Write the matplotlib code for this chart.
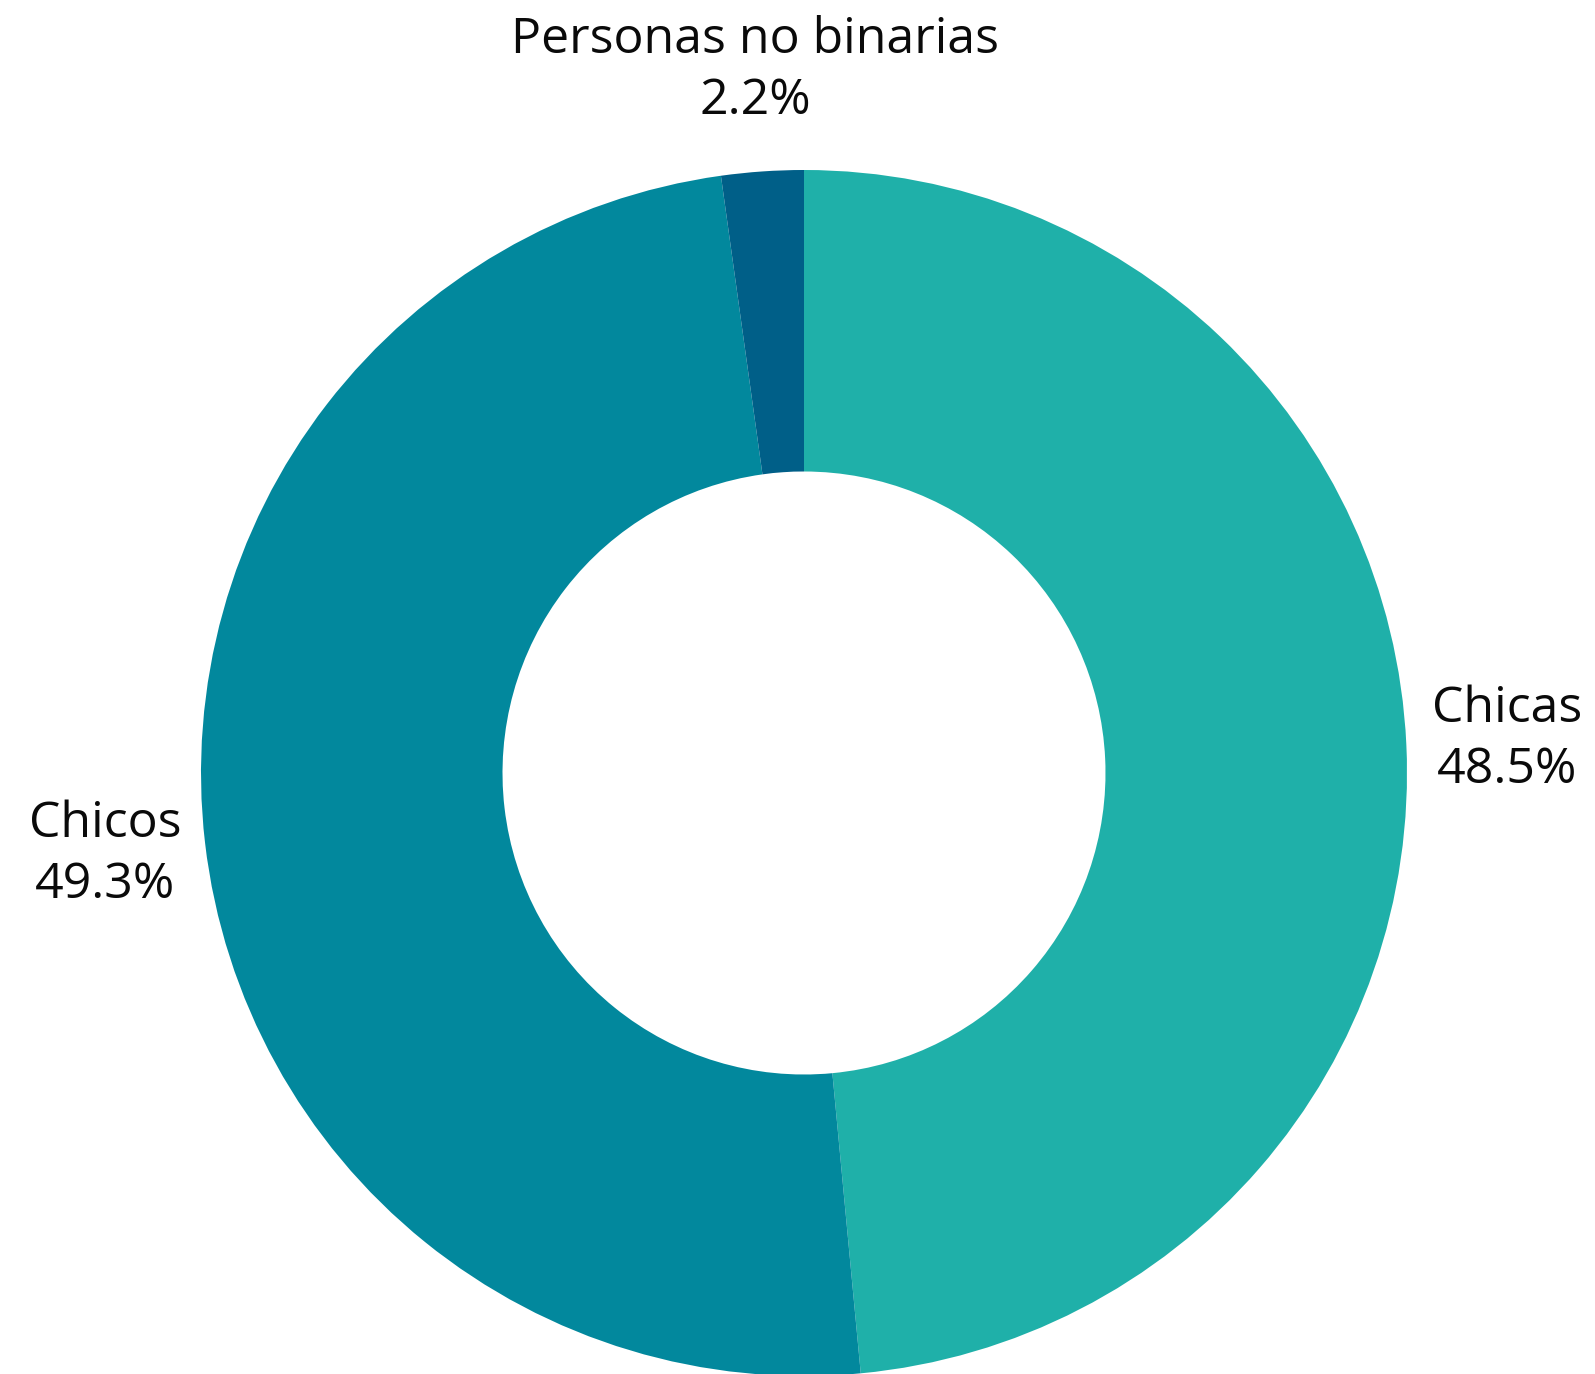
import numpy as np
import matplotlib
matplotlib.use("Agg")
import matplotlib.pyplot as plt

labels = ["Chicas", "Chicos", "Personas no binarias"]
shares = [48.5, 49.3, 2.2]
colors = ["#1fb0a9", "#02889d", "#005f88"]

plt.rcParams['font.family'] = ['Open Sans', 'DejaVu Sans']

W, H = 1595, 1374
fig = plt.figure(figsize=(W / 100, H / 100), dpi=100)

# donut center / radius in pixels
cx, cy, R = 804, 773, 603
ax = fig.add_axes([(cx - R) / W, (H - cy - R) / H, 2 * R / W, 2 * R / H])

wedges, _ = ax.pie(shares, colors=colors, startangle=90, counterclock=False,
                   radius=1.0, wedgeprops=dict(width=0.5, edgecolor="none"))
ax.set_xlim(-1, 1)
ax.set_ylim(-1, 1)
ax.set_aspect("equal")
ax.axis("off")

# labels centered at 1.167 radius along each wedge's mid-angle
for w, lab, s in zip(wedges, labels, shares):
    mid = np.deg2rad((w.theta1 + w.theta2) / 2)
    x, y = 1.167 * np.cos(mid), 1.167 * np.sin(mid)
    ax.text(x, y, f"{lab}\n{s:.1f}%", ha="center", va="center",
            fontsize=36, color="#0a0a0a", linespacing=1.3, clip_on=False)

fig.savefig("out.png", dpi=100)
